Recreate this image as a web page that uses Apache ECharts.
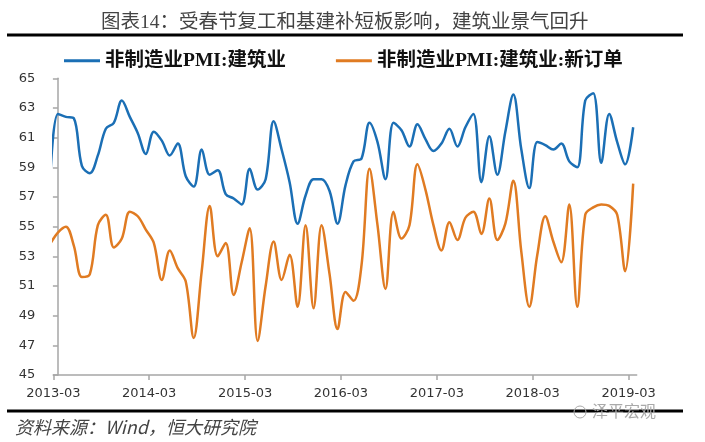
<!DOCTYPE html>
<html><head><meta charset="utf-8">
<script src="https://cdn.jsdelivr.net/npm/echarts@6/dist/echarts.min.js"></script>
<style>html,body{margin:0;padding:0;background:#fff}#c{width:705px;height:442px}</style>
</head><body><div id="c"></div>
<script>
// Monthly categories: 2013-02 ... 2019-03 (2013-02 lies just left of the axis and is clipped)
const months = [];
for (let y = 2013; y <= 2019; y++) {
  for (let m = 1; m <= 12; m++) {
    if ((y === 2013 && m < 2) || (y === 2019 && m > 3)) continue;
    months.push(y + '-' + String(m).padStart(2, '0'));
  }
}
const tickLabels = ['2013-03','2014-03','2015-03','2016-03','2017-03','2018-03','2019-03'];
const seriesNames = ['非制造业PMI:建筑业', '非制造业PMI:建筑业:新订单'];
// 非制造业PMI:建筑业
const construction = [
  57.8,
  62.6, 62.4, 62.3, 59.1, 58.6, 59.8, 61.6, 62.0, 63.5, 62.4, 61.3, 59.9,
  61.4, 60.8, 59.8, 60.6, 58.4, 57.7, 60.2, 58.5, 58.8, 57.2, 56.9, 56.5,
  58.9, 57.5, 58.2, 62.1, 60.2, 58.0, 55.2, 57.1, 58.2, 58.2, 57.4, 55.2,
  57.8, 59.4, 59.6, 62.0, 60.7, 58.2, 62.0, 61.5, 60.4, 61.9, 60.9, 60.1,
  60.6, 61.6, 60.4, 61.7, 62.6, 58.0, 61.1, 58.5, 61.4, 63.9, 60.2, 57.6,
  60.7, 60.5, 60.2, 60.6, 59.4, 59.0, 63.5, 64.0, 59.3, 62.6, 60.7, 59.2,
  61.7
];
// 非制造业PMI:建筑业:新订单
const newOrders = [
  53.8,
  54.6, 55.0, 53.7, 51.6, 51.8, 55.1, 55.8, 53.6, 54.2, 56.0, 55.7, 54.8,
  53.9, 51.4, 53.4, 52.2, 51.3, 47.5, 52.0, 56.4, 53.0, 53.9, 50.4, 52.6,
  54.9, 47.3, 51.0, 54.0, 51.4, 53.1, 49.6, 55.1, 49.5, 55.1, 51.8, 48.1,
  50.6, 50.0, 52.4, 58.9, 55.1, 50.8, 56.0, 54.2, 55.1, 59.2, 57.5, 55.1,
  53.4, 55.3, 54.1, 55.6, 56.0, 54.5, 56.9, 54.1, 55.2, 58.1, 53.3, 49.6,
  53.1, 55.7, 54.0, 52.6, 56.5, 49.6, 55.8, 56.3, 56.5, 56.4, 55.8, 52.0,
  57.9
];

const firstIdx = months.indexOf('2013-03');
const toPairs = arr => arr.map((v, k) => [k - firstIdx, v]);
const X_MIN = -0.576, X_MAX = 72.44;
const tickVals = tickLabels.map((t, k) => X_MIN + 12 * k);

const chart = echarts.init(document.getElementById('c'), null, {renderer: 'canvas'});
const latinSerifCJK = "'Liberation Serif', 'Noto Sans CJK SC', serif";
chart.setOption({
  backgroundColor: '#fff',
  animation: false,
  title: {
    text: '图表14：受春节复工和基建补短板影响，建筑业景气回升',
    left: 96, top: 8,
    textStyle: {fontSize: 19.5, fontWeight: 'normal', color: '#444', fontFamily: latinSerifCJK}
  },
  legend: {
    left: 59, top: 46,
    icon: 'rect', itemWidth: 36, itemHeight: 3, itemGap: 50,
    data: seriesNames,
    textStyle: {fontSize: 19.5, fontWeight: 'bold', color: '#111', fontFamily: latinSerifCJK}
  },
  grid: {left: 53.3, top: 78.3, width: 583.4, height: 296.7, containLabel: false},
  xAxis: {
    type: 'value', min: X_MIN, max: X_MAX,
    splitLine: {show: false},
    axisLine: {lineStyle: {color: '#a6a6a6', width: 1.5}},
    axisTick: {show: true, length: 5, customValues: tickVals, lineStyle: {color: '#a6a6a6', width: 1.5}},
    axisLabel: {
      customValues: tickVals, margin: 12,
      fontSize: 13, color: '#333', fontFamily: "'DejaVu Sans', sans-serif",
      formatter: v => tickLabels[Math.round((v - X_MIN) / 12)] || ''
    }
  },
  yAxis: {
    type: 'value', min: 45, max: 65, interval: 2,
    splitLine: {show: false},
    axisLine: {show: true, lineStyle: {color: '#a6a6a6', width: 1.5}},
    axisTick: {show: true, length: 5, lineStyle: {color: '#a6a6a6', width: 1.5}},
    axisLabel: {margin: 18, fontSize: 13, color: '#333', fontFamily: "'DejaVu Sans', sans-serif",
      formatter: v => (v % 2 === 1 ? String(v) : '')}
  },
  graphic: [
    {type: 'rect', shape: {x: 7, y: 33.5, width: 676, height: 3}, style: {fill: '#000'}},
    {type: 'rect', shape: {x: 7, y: 409.5, width: 676, height: 3}, style: {fill: '#000'}},
    {type: 'text', left: 15, top: 418, style: {text: '资料来源：Wind，恒大研究院', fontSize: 18, fontStyle: 'italic', fill: '#444', fontFamily: "'Noto Sans CJK SC', sans-serif"}},
    {type: 'circle', shape: {cx: 580, cy: 412, r: 6}, style: {fill: 'none', stroke: '#aaa', lineWidth: 1}},
    {type: 'text', left: 592, top: 403, style: {text: '泽平宏观', fontSize: 16, fill: '#aaa', fontFamily: "'Noto Sans CJK SC', sans-serif"}}
  ],
  series: [
    {name: seriesNames[0], type: 'line', data: toPairs(construction), smooth: 0.35, showSymbol: false,
      lineStyle: {color: '#1b6fb5', width: 2.5}, itemStyle: {color: '#1b6fb5'}},
    {name: seriesNames[1], type: 'line', data: toPairs(newOrders), smooth: 0.35, showSymbol: false,
      lineStyle: {color: '#e07b22', width: 2.5}, itemStyle: {color: '#e07b22'}}
  ]
});
</script></body></html>
